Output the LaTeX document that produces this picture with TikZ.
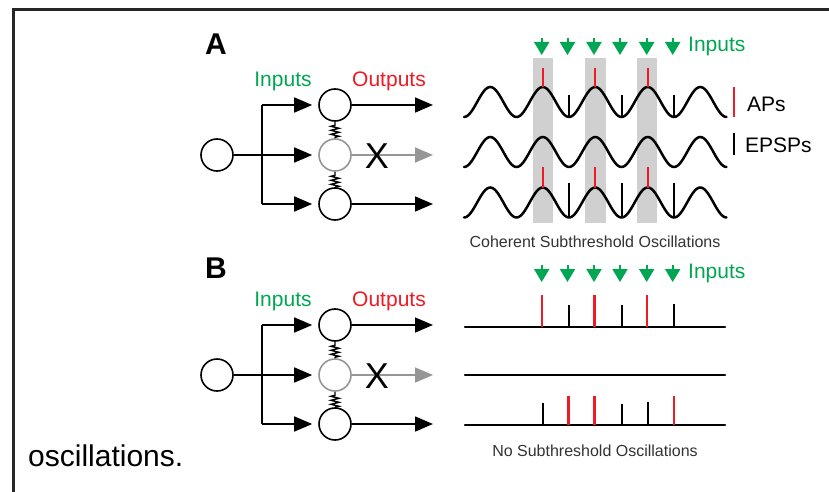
\documentclass[tikz,border=0pt]{standalone}
\usepackage{fontspec}
\setmainfont{Liberation Sans}
\usetikzlibrary{arrows.meta}
\definecolor{ingreen}{RGB}{0,166,81}
\definecolor{outred}{RGB}{237,28,36}
\definecolor{bargray}{RGB}{208,208,208}
\definecolor{midgray}{RGB}{150,150,150}
\tikzset{
  cell/.style={circle, draw, line width=1.6pt, minimum size=32pt, inner sep=0pt},
  wire/.style={line width=1.6pt},
  arr/.style={line width=1.6pt, -{Triangle[length=18pt,width=15pt]}},
  lbl/.style={font=\fontsize{21}{24}\selectfont, inner sep=0pt},
  small/.style={font=\fontsize{16}{18}\selectfont, inner sep=0pt, text=black!80},
  panel/.style={font=\fontsize{30}{32}\selectfont\bfseries, inner sep=0pt},
  cross/.style={font=\fontsize{36}{36}\selectfont, inner sep=0pt},
  trace/.style={line width=2.5pt, line cap=round},
  ap/.style={line width=2.2pt, outred},
  epsp/.style={line width=2pt, black},
  inarrow/.style={line width=2pt, ingreen, -{Triangle[length=13pt,width=15pt]}},
  spring/.style={line width=1.4pt},
}
\newcommand\netw[2]{%
  \node[cell] (#1in) at (217,155+#2) {};
  \node[cell] (#1c1) at (335,105+#2) {};
  \node[cell, draw=midgray] (#1c2) at (335,155+#2) {};
  \node[cell] (#1c3) at (335,204+#2) {};
  \coordinate (#1j1) at (262,105+#2);
  \coordinate (#1j2) at (262,155+#2);
  \coordinate (#1j3) at (262,204+#2);
  \draw[wire] (#1j1) -- (#1j3);
  \draw[arr, shorten >=6pt] (#1in.east) -- (#1c2.west);
  \draw[arr, shorten >=6pt] (#1j1) -- (#1c1.west);
  \draw[arr, shorten >=6pt] (#1j3) -- (#1c3.west);
  \coordinate (#1o1) at (433,105+#2);
  \coordinate (#1o2) at (433,155+#2);
  \coordinate (#1o3) at (433,204+#2);
  \draw[arr] (#1c1.east) -- (#1o1);
  \draw[arr, midgray] (#1c2.east) -- (#1o2);
  \draw[arr] (#1c3.east) -- (#1o3);
  \node[cross] (#1x) at (377,156+#2) {X};
  \draw[spring] (#1c1.south) -- ++(0,3.5) -- ++(-4,1) -- ++(8,2) -- ++(-8,2) -- ++(8,2) -- ++(-8,2) -- ++(8,2) -- ++(-4,1) -- (#1c2.north);
  \draw[spring] (#1c2.south) -- ++(0,3.5) -- ++(-4,1) -- ++(8,2) -- ++(-8,2) -- ++(8,2) -- ++(-8,2) -- ++(8,2) -- ++(-4,1) -- (#1c3.north);
  \node[lbl, text=ingreen] (#1inlbl) at (283,81+#2) {Inputs};
  \node[lbl, text=outred] (#1outlbl) at (389,81+#2) {Outputs};
}
\begin{document}
\begin{tikzpicture}[x=1pt, y=-1pt]
\useasboundingbox (0,0) rectangle (829,492);
\fill[white] (0,0) rectangle (829,492);
\draw[line width=3pt, black!85] (13.5,493) -- (13.5,10) -- (830,10);

% panel labels
\node[panel] (pa) at (216,44) {A};
\node[panel] (pb) at (216,268) {B};

% networks
\netw{a}{0}
\netw{b}{220}

% ---- Panel A traces ----
\fill[bargray] (533,58) rectangle (553,223);
\fill[bargray] (585,58) rectangle (606,223);
\fill[bargray] (637,58) rectangle (657,223);
\foreach \c in {102,152,202.5}
  \draw[trace] plot[domain=464:726.5, samples=160, smooth] (\x, {\c + 15*cos((\x-464)*6.857143)});
\foreach \x in {542.75,595.25,647.75} {
  \draw[ap] (\x,68) -- (\x,87.5);
  \draw[ap] (\x,167) -- (\x,187.5);
}
\foreach \x in {569,621.5,674} {
  \draw[epsp] (\x,95) -- (\x,117);
  \draw[epsp] (\x,183) -- (\x,217.5);
}
\foreach \x in {541.7,567.5,594,620,646.7,672.7}
  \draw[inarrow] (\x,38) -- (\x,55);
\node[lbl, text=ingreen, anchor=west] (ainr) at (688,46) {Inputs};
\draw[ap] (734,87) -- (734,117);
\node[lbl, anchor=west] (aaps) at (747,104) {APs};
\draw[epsp] (734,133) -- (734,155);
\node[lbl, anchor=west] (aepsp) at (745,145) {EPSPs};
\node[small] (acap) at (595,242) {Coherent Subthreshold Oscillations};

% ---- Panel B traces ----
\foreach \x in {541.7,567.5,594,620,646.7,672.7}
  \draw[inarrow] (\x,265) -- (\x,282);
\node[lbl, text=ingreen, anchor=west] (binr) at (688,273) {Inputs};
\draw[trace] (465,327) -- (725,327);
\draw[trace] (465,375) -- (725,375);
\draw[trace] (465,425) -- (725,425);
\draw[ap] (542,295) -- (542,327);
\draw[ap] (594.5,295) -- (594.5,327);
\draw[ap] (647,295) -- (647,327);
\draw[epsp] (568.5,305) -- (568.5,327);
\draw[epsp] (621.5,305) -- (621.5,327);
\draw[epsp] (674,304) -- (674,327);
\draw[epsp] (542.5,403) -- (542.5,425);
\draw[ap] (568.5,396) -- (568.5,425);
\draw[ap] (594.5,396) -- (594.5,425);
\draw[epsp] (621.5,404) -- (621.5,425);
\draw[epsp] (648,402) -- (648,425);
\draw[ap] (674,396) -- (674,425);
\node[small] (bcap) at (595,451) {No Subthreshold Oscillations};

\node[font=\fontsize{30}{32}\selectfont, inner sep=0pt, anchor=west] (osc) at (28,456) {oscillations.};
\end{tikzpicture}
\end{document}
